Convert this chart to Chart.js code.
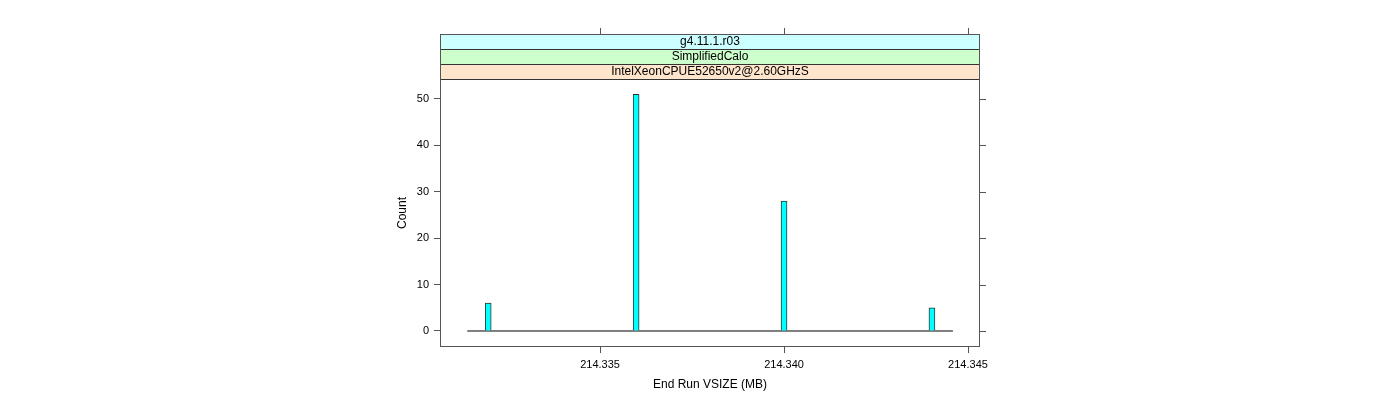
<!DOCTYPE html>
<html>
<head>
<meta charset="utf-8">
<script src="https://cdn.jsdelivr.net/npm/chart.js@4"></script>
<style>
  html, body { margin: 0; padding: 0; background: #fff; }
  #wrap { width: 1400px; height: 400px; }
</style>
</head>
<body>
<div id="wrap"><canvas id="histChart" width="1400" height="400"></canvas></div>
<script>
// datos del histograma
const binCenters = [214.33196, 214.33598, 214.34000, 214.34402];
const counts = [6, 51, 28, 5];
const baselineX = [214.33139, 214.34459];
const xTicks = [214.335, 214.340, 214.345];
const yTicks = [0, 10, 20, 30, 40, 50];
const stripLabels = ['g4.11.1.r03', 'SimplifiedCalo', 'IntelXeonCPUE52650v2@2.60GHzS'];
const stripColors = ['#ccffff', '#ccffcc', '#ffe5cc'];

const axisColor = '#555';
const fontFam = 'Liberation Sans, Arial, sans-serif';

// tiras de lattice, caja del panel y marcas arriba/derecha
const latticePlugin = {
    id: 'lattice',
    afterDraw(chart) {
        const ctx = chart.ctx;
        const a = chart.chartArea;
        const sh = 15;
        const top = a.top - sh * stripLabels.length;
        ctx.save();
        stripLabels.forEach((lab, i) => {
            const y = top + i * sh;
            ctx.fillStyle = stripColors[i];
            ctx.fillRect(a.left, y, a.right - a.left, sh);
            ctx.strokeStyle = '#333';
            ctx.lineWidth = 1;
            ctx.strokeRect(a.left + 0.5, y + 0.5, a.right - a.left - 1, sh);
            ctx.fillStyle = '#000';
            ctx.font = '12px ' + fontFam;
            ctx.textAlign = 'center';
            ctx.textBaseline = 'middle';
            ctx.fillText(lab, (a.left + a.right) / 2, y + sh / 2 + 0.5);
        });
        // caja
        ctx.strokeStyle = axisColor;
        ctx.strokeRect(a.left + 0.5, top + 0.5, a.right - a.left - 1, a.bottom - top - 1);
        // marcas superiores
        const xs = chart.scales.x;
        xTicks.forEach(v => {
            const px = Math.round(xs.getPixelForValue(v)) + 0.5;
            ctx.beginPath();
            ctx.moveTo(px, top);
            ctx.lineTo(px, top - 6);
            ctx.stroke();
        });
        // marcas derechas
        const ys = chart.scales.y;
        yTicks.forEach(v => {
            const py = Math.round(ys.getPixelForValue(v)) + 0.5;
            ctx.beginPath();
            ctx.moveTo(a.right, py);
            ctx.lineTo(a.right + 6, py);
            ctx.stroke();
        });
        ctx.restore();
    }
};

const ctx = document.getElementById('histChart').getContext('2d');

new Chart(ctx, {
    data: {
        datasets: [{
            type: 'bar',
            data: binCenters.map((x, i) => ({ x: x, y: counts[i] })),
            backgroundColor: '#00ffff',
            borderColor: '#333',
            borderWidth: 1,
            barThickness: 6,
            order: 1
        }, {
            type: 'line',
            data: baselineX.map(x => ({ x: x, y: 0 })),
            borderColor: '#000',
            borderWidth: 1,
            pointRadius: 0,
            order: 2
        }]
    },
    options: {
        responsive: false,
        animation: false,
        layout: {
            padding: { left: 380, right: 420, top: 79, bottom: 0 }
        },
        plugins: {
            legend: { display: false },
            tooltip: { enabled: false }
        },
        scales: {
            x: {
                type: 'linear',
                offset: false,
                min: 214.33065,
                max: 214.345326,
                afterBuildTicks: s => { s.ticks = xTicks.map(v => ({ value: v })); },
                afterFit: s => { s.height = 53; },
                ticks: {
                    autoSkip: false,
                    maxRotation: 0,
                    padding: 5,
                    color: '#000',
                    font: { size: 11, family: fontFam },
                    callback: v => v.toFixed(3)
                },
                grid: {
                    offset: false,
                    drawOnChartArea: false,
                    drawTicks: true,
                    tickLength: 6,
                    color: axisColor
                },
                border: { display: false },
                title: {
                    display: true,
                    text: 'End Run VSIZE (MB)',
                    color: '#000',
                    font: { size: 12, family: fontFam },
                    padding: { top: 0, bottom: 8 }
                }
            },
            y: {
                type: 'linear',
                min: -3.45,
                max: 54.31,
                afterBuildTicks: s => { s.ticks = yTicks.map(v => ({ value: v })); },
                afterFit: s => { s.width = 60; },
                ticks: {
                    padding: 5,
                    color: '#000',
                    font: { size: 11, family: fontFam }
                },
                grid: {
                    drawOnChartArea: false,
                    drawTicks: true,
                    tickLength: 6,
                    color: axisColor
                },
                border: { display: false },
                title: {
                    display: true,
                    text: 'Count',
                    color: '#000',
                    font: { size: 12, family: fontFam },
                    padding: { top: 15, bottom: 0 }
                }
            }
        }
    },
    plugins: [latticePlugin]
});
</script>
</body>
</html>
